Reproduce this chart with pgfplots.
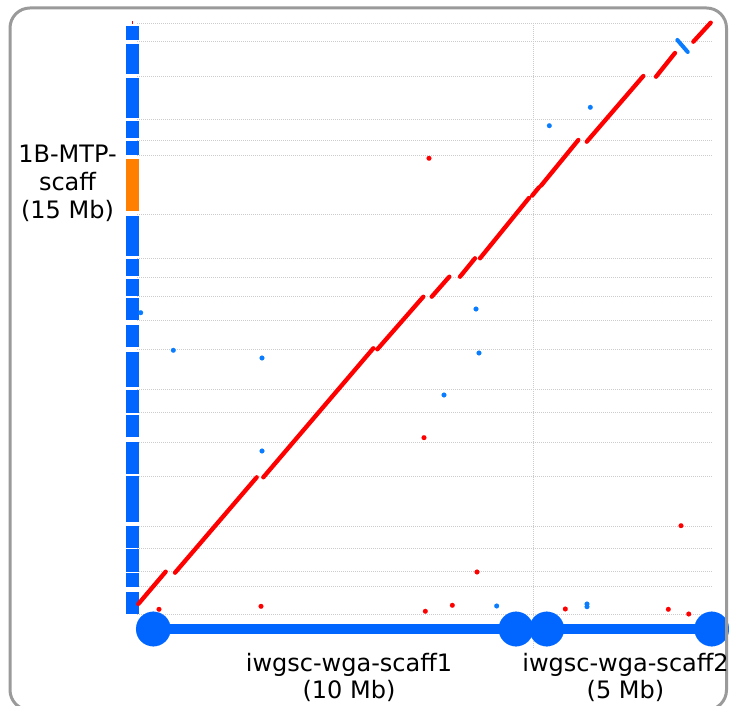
\documentclass[border=0pt]{standalone}
\usepackage{pgfplots}
\pgfplotsset{compat=1.18}
\usepackage{fontspec}
\setmainfont{DejaVu Sans}
\definecolor{barblue}{HTML}{0066FF}
\definecolor{dotblue}{HTML}{0A7CFF}
\definecolor{barorange}{HTML}{FF8000}
\definecolor{gridgray}{HTML}{CCCCCC}
\definecolor{framegray}{HTML}{9A9A9A}
\begin{document}
\begin{tikzpicture}
\useasboundingbox (0pt,0pt) rectangle (729pt,706pt);
\begin{scope}
\clip (0pt,0pt) rectangle (729pt,706pt);
\begin{axis}[at={(0pt,0pt)}, anchor=south west, scale only axis,
  width=729pt, height=706pt,
  xmin=-3.425, xmax=14.8, ymin=-2.335, ymax=15.584,
  hide axis, unbounded coords=jump, clip=false]
% horizontal grid lines (segment boundaries of 1B-MTP-scaff)
\addplot[gridgray, line width=0.8pt, dash pattern=on 1pt off 1pt] coordinates {
 (0,15.0) (14.4,15.0) (0,nan)
 (0,14.54) (14.4,14.54) (0,nan)
 (0,13.65) (14.4,13.65) (0,nan)
 (0,12.56) (14.4,12.56) (0,nan)
 (0,12.03) (14.4,12.03) (0,nan)
 (0,11.64) (14.4,11.64) (0,nan)
 (0,10.13) (14.4,10.13) (0,nan)
 (0,9.03) (14.4,9.03) (0,nan)
 (0,8.55) (14.4,8.55) (0,nan)
 (0,8.07) (14.4,8.07) (0,nan)
 (0,7.44) (14.4,7.44) (0,nan)
 (0,6.72) (14.4,6.72) (0,nan)
 (0,5.69) (14.4,5.69) (0,nan)
 (0,5.11) (14.4,5.11) (0,nan)
 (0,4.36) (14.4,4.36) (0,nan)
 (0,3.48) (14.4,3.48) (0,nan)
 (0,2.23) (14.4,2.23) (0,nan)
 (0,1.66) (14.4,1.66) (0,nan)
 (0,1.07) (14.4,1.07) (0,nan)
 (0,0.69) (14.4,0.69) (0,nan)
 (0,0) (14.4,0)
};
% vertical boundary between scaff1 and scaff2
\addplot[gridgray, line width=0.8pt, dash pattern=on 1pt off 1pt] coordinates {(9.91,15.0) (9.91,-0.85)};
% left segment bars
\addplot[barblue, line width=12.7pt, line cap=butt] coordinates {
 (-0.1175,14.57) (-0.1175,14.92) (-0.1175,nan)
 (-0.1175,13.71) (-0.1175,14.47) (-0.1175,nan)
 (-0.1175,12.58) (-0.1175,13.60) (-0.1175,nan)
 (-0.1175,12.08) (-0.1175,12.51) (-0.1175,nan)
 (-0.1175,11.65) (-0.1175,12.01) (-0.1175,nan)
 (-0.1175,9.09) (-0.1175,10.11) (-0.1175,nan)
 (-0.1175,8.59) (-0.1175,9.01) (-0.1175,nan)
 (-0.1175,8.08) (-0.1175,8.51) (-0.1175,nan)
 (-0.1175,7.47) (-0.1175,8.03) (-0.1175,nan)
 (-0.1175,6.77) (-0.1175,7.33) (-0.1175,nan)
 (-0.1175,5.77) (-0.1175,6.64) (-0.1175,nan)
 (-0.1175,5.11) (-0.1175,5.68) (-0.1175,nan)
 (-0.1175,4.48) (-0.1175,5.04) (-0.1175,nan)
 (-0.1175,3.55) (-0.1175,4.37) (-0.1175,nan)
 (-0.1175,2.33) (-0.1175,3.50) (-0.1175,nan)
 (-0.1175,1.68) (-0.1175,2.23) (-0.1175,nan)
 (-0.1175,1.07) (-0.1175,1.65) (-0.1175,nan)
 (-0.1175,0.69) (-0.1175,1.05) (-0.1175,nan)
 (-0.1175,0.0) (-0.1175,0.55)
};
\addplot[barorange, line width=12.7pt, line cap=butt] coordinates {(-0.1175,10.23) (-0.1175,11.55)};
\addplot[red, line width=1pt] coordinates {(-0.118,14.97) (-0.118,15.06)};
% bottom scaffolds
\addplot[barblue, line width=10.5pt] coordinates {(0.408,-0.381) (9.475,-0.381) (9.8,nan) (10.243,-0.381) (14.368,-0.381)};
\addplot[barblue, only marks, mark=*, mark size=17.3pt, mark options={solid, draw=barblue, fill=barblue, line width=0.1pt}] coordinates {(0.408,-0.381) (9.475,-0.381) (10.243,-0.381) (14.368,-0.381)};
% forward alignments (red)
\addplot[red, line width=4.3pt, line cap=round] coordinates {
 (0.033,0.254) (0.718,1.074) (0.8,nan)
 (0.95,1.048) (2.993,3.470) (3.0,nan)
 (3.158,3.470) (5.908,6.744) (5.95,nan)
 (6.008,6.718) (7.158,8.053) (7.2,nan)
 (7.368,8.053) (7.808,8.561) (7.9,nan)
 (8.075,8.561) (8.45,9.028) (8.5,nan)
 (8.575,9.028) (9.80,10.56) (9.85,nan)
 (9.88,10.62) (10.05,10.83) (10.1,nan)
 (10.10,10.87) (11.033,12.030) (11.1,nan)
 (11.243,11.987) (12.658,13.655) (12.8,nan)
 (12.975,13.637) (13.45,14.239) (13.6,nan)
 (13.908,14.525) (14.343,15.008)
};
% reverse alignment (blue)
\addplot[dotblue, line width=4pt, line cap=round] coordinates {(13.508,14.569) (13.768,14.264)};
% isolated red hits
\addplot[red, only marks, mark=*, mark size=2.4pt, mark options={draw=red, fill=red, line width=0.1pt}] coordinates {
 (7.3,11.566) (7.175,4.475) (8.5,1.066) (7.208,0.069) (7.883,0.221)
 (10.708,0.127) (0.55,0.119) (3.1,0.195) (13.6,2.241) (13.283,0.119) (13.793,0.0)
};
% isolated blue hits
\addplot[dotblue, only marks, mark=*, mark size=2.4pt, mark options={draw=dotblue, fill=dotblue, line width=0.1pt}] coordinates {
 (0.0925,7.647) (0.908,6.693) (3.125,6.497) (3.125,4.137) (8.475,7.741)
 (8.55,6.624) (7.675,5.558) (8.992,0.203) (11.25,0.254) (11.25,0.185)
 (10.308,12.393) (11.333,12.860)
};
\end{axis}
\draw[framegray, line width=3pt, rounded corners=20pt] (10pt,-4pt) rectangle (726.5pt,698pt);
\end{scope}
\begin{scope}[every node/.style={anchor=base, inner sep=0pt, font=\fontsize{24}{28}\selectfont}]
\node at (67.5pt,543pt) {1B-MTP-};
\node at (67.5pt,515pt) {scaff};
\node at (67.5pt,487pt) {(15 Mb)};
\node at (349pt,34pt) {iwgsc-wga-scaff1};
\node at (349pt,7pt) {(10 Mb)};
\node at (625.5pt,34pt) {iwgsc-wga-scaff2};
\node at (625.5pt,7pt) {(5 Mb)};
\end{scope}
\end{tikzpicture}
\end{document}
